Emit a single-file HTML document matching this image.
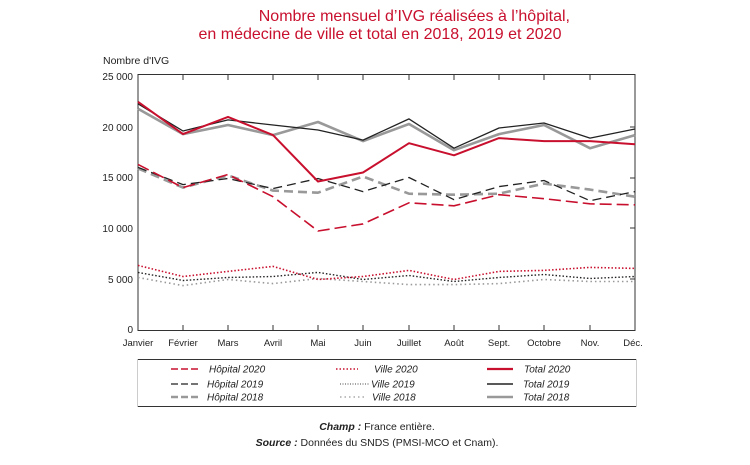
<!DOCTYPE html>
<html><head><meta charset="utf-8"><style>
html,body{margin:0;padding:0;background:#fff;}
svg{display:block;font-family:"Liberation Sans",sans-serif;}
</style></head><body>
<svg width="750" height="465" viewBox="0 0 750 465" xmlns="http://www.w3.org/2000/svg">
<text x="570" y="21" text-anchor="end" font-size="16" fill="#c8102e">Nombre mensuel d’IVG réalisées à l’hôpital,</text>
<text x="380" y="39" text-anchor="middle" font-size="16" fill="#c8102e">en médecine de ville et total en 2018, 2019 et 2020</text>
<text x="103" y="64" font-size="10.5" fill="#222">Nombre d'IVG</text>
<g font-size="10" fill="#222" text-anchor="end">
<text x="133" y="80">25 000</text><text x="133" y="131">20 000</text><text x="133" y="181">15 000</text><text x="133" y="232">10 000</text><text x="133" y="283">5 000</text><text x="133" y="333">0</text>
</g>
<g stroke="#333" stroke-width="1" fill="none">
<rect x="138" y="74.5" width="497" height="256"/>
<path d="M183 75v5M228 75v5M273 75v5M318 75v5M363 75v5M409 75v5M454 75v5M499 75v5M544 75v5M590 75v5
M183 330v-5M228 330v-5M273 330v-5M318 330v-5M363 330v-5M409 330v-5M454 330v-5M499 330v-5M544 330v-5M590 330v-5
M630 127h5M630 178h5M630 228h5M630 279h5"/>
</g>
<g font-size="9.5" fill="#222" text-anchor="middle">
<text x="138" y="346">Janvier</text><text x="183" y="346">Février</text><text x="228" y="346">Mars</text><text x="273" y="346">Avril</text><text x="318" y="346">Mai</text><text x="363" y="346">Juin</text><text x="409" y="346">Juillet</text><text x="454" y="346">Août</text><text x="499" y="346">Sept.</text><text x="544" y="346">Octobre</text><text x="590" y="346">Nov.</text><text x="633" y="346">Déc.</text>
</g>
<g fill="none" stroke-linejoin="round">
<!-- Ville -->
<polyline stroke="#999" stroke-width="1.6" stroke-dasharray="1.5 3" points="138,277.5 183,285.6 228,279.5 273,283.6 318,278.5 363,281.5 409,284.6 454,284.6 499,283.6 544,279.5 590,281.5 635,281.5"/>
<polyline stroke="#222" stroke-width="1.4" stroke-dasharray="1.5 2" points="138,272.4 183,280.5 228,277.5 273,276.5 318,272.4 363,279.5 409,275.5 454,281.5 499,277.5 544,274.5 590,278.5 635,276.5"/>
<polyline stroke="#c8102e" stroke-width="1.6" stroke-dasharray="1.5 2" points="138,265.4 183,276.5 228,271.4 273,266.4 318,279.5 363,276.5 409,270.4 454,279.5 499,271.4 544,270.4 590,267.4 635,268.4"/>
<!-- Hopital -->
<polyline stroke="#999" stroke-width="2.6" stroke-dasharray="9 5" points="138,168.4 183,187.6 228,175.5 273,190.6 318,192.7 363,176.5 409,193.7 454,194.7 499,193.7 544,183.6 590,189.6 635,196.7"/>
<polyline stroke="#222" stroke-width="1.3" stroke-dasharray="9 5" points="138,167.4 183,184.6 228,178.5 273,188.6 318,178.5 363,191.6 409,177.5 454,199.7 499,186.6 544,180.5 590,200.7 635,191.6"/>
<polyline stroke="#c8102e" stroke-width="1.6" stroke-dasharray="12 5" points="138,164.4 183,187.6 228,174.5 273,196.7 318,231 363,223.9 409,202.8 454,205.8 499,194.7 544,198.7 590,203.8 635,204.8"/>
<!-- Total -->
<polyline stroke="#999" stroke-width="2.6" points="138,108.8 183,134.1 228,125 273,135.1 318,122 363,141.1 409,124 454,150.2 499,134.1 544,125 590,148.2 635,135.1"/>
<polyline stroke="#222" stroke-width="1.3" points="138,103.8 183,131 228,119.9 273,125 318,130 363,140.1 409,118.9 454,148.2 499,128 544,123 590,138.1 635,129"/>
<polyline stroke="#c8102e" stroke-width="2" points="138,101.8 183,134.1 228,116.9 273,135.1 318,181.5 363,172.5 409,143.2 454,155.3 499,138.1 544,141.1 590,141.1 635,144.2"/>
</g>
<!-- legend -->
<g fill="none">
<path d="M137 359.5h500M137 406.5h500" stroke="#333" stroke-width="1"/>
<path d="M137.5 359v48M636.5 359v48" stroke="#ccc" stroke-width="1"/>
<path d="M171 369h28" stroke="#c8102e" stroke-width="1.6" stroke-dasharray="7 3"/>
<path d="M171 384h28" stroke="#222" stroke-width="1.3" stroke-dasharray="7 3"/>
<path d="M171 397h28" stroke="#999" stroke-width="2.4" stroke-dasharray="7 3"/>
<path d="M336 369h22" stroke="#c8102e" stroke-width="1.5" stroke-dasharray="1.5 2"/>
<path d="M340 384h30" stroke="#444" stroke-width="1" stroke-dasharray="1 1.5"/>
<path d="M340 397h26" stroke="#999" stroke-width="1.3" stroke-dasharray="1.5 3"/>
<path d="M487 369h26" stroke="#c8102e" stroke-width="2.2"/>
<path d="M487 384h26" stroke="#222" stroke-width="1.6"/>
<path d="M487 397h26" stroke="#999" stroke-width="2.6"/>
</g>
<g font-size="10" font-style="italic" fill="#222">
<text x="209" y="372.5">Hôpital 2020</text><text x="207" y="387.5">Hôpital 2019</text><text x="207" y="400.5">Hôpital 2018</text>
<text x="374" y="372.5">Ville 2020</text><text x="371" y="387.5">Ville 2019</text><text x="372" y="400.5">Ville 2018</text>
<text x="524" y="372.5">Total 2020</text><text x="523" y="387.5">Total 2019</text><text x="523" y="400.5">Total 2018</text>
</g>
<g font-size="10.5" fill="#222" text-anchor="middle">
<text x="377" y="430"><tspan font-style="italic" font-weight="bold">Champ :</tspan> France entière.</text>
<text x="377" y="446"><tspan font-style="italic" font-weight="bold">Source :</tspan> Données du SNDS (PMSI-MCO et Cnam).</text>
</g>
</svg>
</body></html>
